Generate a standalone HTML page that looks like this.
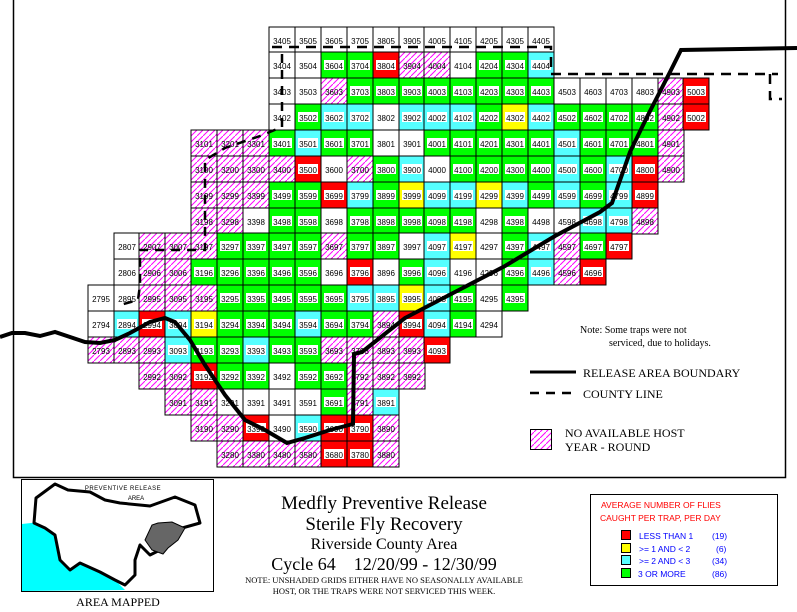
<!DOCTYPE html>
<html><head><meta charset="utf-8"><style>
body{margin:0;background:#fff}
svg{display:block}
.c rect{width:26px;height:26px;stroke:#000;stroke-width:1;fill:#fff}
.c rect.g{fill:#00ff00}.c rect.b{fill:#55ffff}.c rect.r{fill:#ff0000}.c rect.y{fill:#ffff00}.c rect.h{fill:url(#hp)}
.c rect.l{x:3px;y:8px;width:20px;height:10px;fill:#fff;stroke:none}
.c text{font-family:"Liberation Sans",sans-serif;font-size:8px;text-anchor:middle}
.sf{font-family:"Liberation Serif",serif}
.ss{font-family:"Liberation Sans",sans-serif}
</style></head><body>
<svg width="797" height="612" viewBox="0 0 797 612" xmlns="http://www.w3.org/2000/svg">
<defs><pattern id="hp" patternUnits="userSpaceOnUse" width="6" height="6"><rect width="6" height="6" fill="#fff"/><path d="M-1,7 L7,-1" stroke="#ff00ff" stroke-width="1"/></pattern></defs>
<rect x="13.5" y="-1" width="772" height="478.5" fill="none" stroke="#000" stroke-width="1.5"/>
<g class="c">
<!-- row0 -->
<g transform="translate(269,27)"><rect/><text x="13" y="17">3405</text></g>
<g transform="translate(295,27)"><rect/><text x="13" y="17">3505</text></g>
<g transform="translate(321,27)"><rect/><text x="13" y="17">3605</text></g>
<g transform="translate(347,27)"><rect/><text x="13" y="17">3705</text></g>
<g transform="translate(373,27)"><rect/><text x="13" y="17">3805</text></g>
<g transform="translate(399,27)"><rect/><text x="13" y="17">3905</text></g>
<g transform="translate(424,27)"><rect/><text x="13" y="17">4005</text></g>
<g transform="translate(450,27)"><rect/><text x="13" y="17">4105</text></g>
<g transform="translate(476,27)"><rect/><text x="13" y="17">4205</text></g>
<g transform="translate(502,27)"><rect/><text x="13" y="17">4305</text></g>
<g transform="translate(528,27)"><rect/><text x="13" y="17">4405</text></g>
<!-- row1 -->
<g transform="translate(269,52)"><rect/><text x="13" y="17">3404</text></g>
<g transform="translate(295,52)"><rect/><text x="13" y="17">3504</text></g>
<g transform="translate(321,52)"><rect class="g"/><rect class="l"/><text x="13" y="17">3604</text></g>
<g transform="translate(347,52)"><rect class="g"/><rect class="l"/><text x="13" y="17">3704</text></g>
<g transform="translate(373,52)"><rect class="r"/><rect class="l"/><text x="13" y="17">3804</text></g>
<g transform="translate(399,52)"><rect class="h"/><text x="13" y="17">3904</text></g>
<g transform="translate(424,52)"><rect class="h"/><text x="13" y="17">4004</text></g>
<g transform="translate(450,52)"><rect/><text x="13" y="17">4104</text></g>
<g transform="translate(476,52)"><rect class="g"/><rect class="l"/><text x="13" y="17">4204</text></g>
<g transform="translate(502,52)"><rect class="g"/><rect class="l"/><text x="13" y="17">4304</text></g>
<g transform="translate(528,52)"><rect class="b"/><rect class="l"/><text x="13" y="17">4404</text></g>
<!-- row2 -->
<g transform="translate(269,78)"><rect/><text x="13" y="17">3403</text></g>
<g transform="translate(295,78)"><rect/><text x="13" y="17">3503</text></g>
<g transform="translate(321,78)"><rect class="h"/><text x="13" y="17">3603</text></g>
<g transform="translate(347,78)"><rect class="g"/><rect class="l"/><text x="13" y="17">3703</text></g>
<g transform="translate(373,78)"><rect class="g"/><rect class="l"/><text x="13" y="17">3803</text></g>
<g transform="translate(399,78)"><rect class="g"/><rect class="l"/><text x="13" y="17">3903</text></g>
<g transform="translate(424,78)"><rect class="g"/><rect class="l"/><text x="13" y="17">4003</text></g>
<g transform="translate(450,78)"><rect class="g"/><rect class="l"/><text x="13" y="17">4103</text></g>
<g transform="translate(476,78)"><rect class="g"/><rect class="l"/><text x="13" y="17">4203</text></g>
<g transform="translate(502,78)"><rect class="g"/><rect class="l"/><text x="13" y="17">4303</text></g>
<g transform="translate(528,78)"><rect class="g"/><rect class="l"/><text x="13" y="17">4403</text></g>
<g transform="translate(554,78)"><rect/><text x="13" y="17">4503</text></g>
<g transform="translate(580,78)"><rect/><text x="13" y="17">4603</text></g>
<g transform="translate(606,78)"><rect/><text x="13" y="17">4703</text></g>
<g transform="translate(632,78)"><rect/><text x="13" y="17">4803</text></g>
<g transform="translate(658,78)"><rect class="h"/><text x="13" y="17">4903</text></g>
<g transform="translate(683,78)"><rect class="r"/><rect class="l"/><text x="13" y="17">5003</text></g>
<!-- row3 -->
<g transform="translate(269,104)"><rect/><text x="13" y="17">3402</text></g>
<g transform="translate(295,104)"><rect class="g"/><rect class="l"/><text x="13" y="17">3502</text></g>
<g transform="translate(321,104)"><rect class="b"/><rect class="l"/><text x="13" y="17">3602</text></g>
<g transform="translate(347,104)"><rect class="b"/><rect class="l"/><text x="13" y="17">3702</text></g>
<g transform="translate(373,104)"><rect/><text x="13" y="17">3802</text></g>
<g transform="translate(399,104)"><rect class="b"/><rect class="l"/><text x="13" y="17">3902</text></g>
<g transform="translate(424,104)"><rect class="b"/><rect class="l"/><text x="13" y="17">4002</text></g>
<g transform="translate(450,104)"><rect class="b"/><rect class="l"/><text x="13" y="17">4102</text></g>
<g transform="translate(476,104)"><rect class="g"/><rect class="l"/><text x="13" y="17">4202</text></g>
<g transform="translate(502,104)"><rect class="y"/><rect class="l"/><text x="13" y="17">4302</text></g>
<g transform="translate(528,104)"><rect class="b"/><rect class="l"/><text x="13" y="17">4402</text></g>
<g transform="translate(554,104)"><rect class="g"/><rect class="l"/><text x="13" y="17">4502</text></g>
<g transform="translate(580,104)"><rect class="g"/><rect class="l"/><text x="13" y="17">4602</text></g>
<g transform="translate(606,104)"><rect class="g"/><rect class="l"/><text x="13" y="17">4702</text></g>
<g transform="translate(632,104)"><rect class="g"/><rect class="l"/><text x="13" y="17">4802</text></g>
<g transform="translate(658,104)"><rect class="h"/><text x="13" y="17">4902</text></g>
<g transform="translate(683,104)"><rect class="r"/><rect class="l"/><text x="13" y="17">5002</text></g>
<!-- row4 -->
<g transform="translate(191,130)"><rect class="h"/><text x="13" y="17">3101</text></g>
<g transform="translate(217,130)"><rect class="h"/><text x="13" y="17">3201</text></g>
<g transform="translate(243,130)"><rect class="h"/><text x="13" y="17">3301</text></g>
<g transform="translate(269,130)"><rect class="g"/><rect class="l"/><text x="13" y="17">3401</text></g>
<g transform="translate(295,130)"><rect class="b"/><rect class="l"/><text x="13" y="17">3501</text></g>
<g transform="translate(321,130)"><rect class="g"/><rect class="l"/><text x="13" y="17">3601</text></g>
<g transform="translate(347,130)"><rect class="g"/><rect class="l"/><text x="13" y="17">3701</text></g>
<g transform="translate(373,130)"><rect/><text x="13" y="17">3801</text></g>
<g transform="translate(399,130)"><rect/><text x="13" y="17">3901</text></g>
<g transform="translate(424,130)"><rect class="g"/><rect class="l"/><text x="13" y="17">4001</text></g>
<g transform="translate(450,130)"><rect class="g"/><rect class="l"/><text x="13" y="17">4101</text></g>
<g transform="translate(476,130)"><rect class="g"/><rect class="l"/><text x="13" y="17">4201</text></g>
<g transform="translate(502,130)"><rect class="g"/><rect class="l"/><text x="13" y="17">4301</text></g>
<g transform="translate(528,130)"><rect class="g"/><rect class="l"/><text x="13" y="17">4401</text></g>
<g transform="translate(554,130)"><rect class="b"/><rect class="l"/><text x="13" y="17">4501</text></g>
<g transform="translate(580,130)"><rect class="g"/><rect class="l"/><text x="13" y="17">4601</text></g>
<g transform="translate(606,130)"><rect class="g"/><rect class="l"/><text x="13" y="17">4701</text></g>
<g transform="translate(632,130)"><rect class="g"/><rect class="l"/><text x="13" y="17">4801</text></g>
<g transform="translate(658,130)"><rect class="h"/><text x="13" y="17">4901</text></g>
<!-- row5 -->
<g transform="translate(191,156)"><rect class="h"/><text x="13" y="17">3100</text></g>
<g transform="translate(217,156)"><rect class="h"/><text x="13" y="17">3200</text></g>
<g transform="translate(243,156)"><rect class="h"/><text x="13" y="17">3300</text></g>
<g transform="translate(269,156)"><rect class="h"/><text x="13" y="17">3400</text></g>
<g transform="translate(295,156)"><rect class="r"/><rect class="l"/><text x="13" y="17">3500</text></g>
<g transform="translate(321,156)"><rect/><text x="13" y="17">3600</text></g>
<g transform="translate(347,156)"><rect class="h"/><text x="13" y="17">3700</text></g>
<g transform="translate(373,156)"><rect class="g"/><rect class="l"/><text x="13" y="17">3800</text></g>
<g transform="translate(399,156)"><rect class="b"/><rect class="l"/><text x="13" y="17">3900</text></g>
<g transform="translate(424,156)"><rect/><text x="13" y="17">4000</text></g>
<g transform="translate(450,156)"><rect class="g"/><rect class="l"/><text x="13" y="17">4100</text></g>
<g transform="translate(476,156)"><rect class="g"/><rect class="l"/><text x="13" y="17">4200</text></g>
<g transform="translate(502,156)"><rect class="g"/><rect class="l"/><text x="13" y="17">4300</text></g>
<g transform="translate(528,156)"><rect class="g"/><rect class="l"/><text x="13" y="17">4400</text></g>
<g transform="translate(554,156)"><rect class="b"/><rect class="l"/><text x="13" y="17">4500</text></g>
<g transform="translate(580,156)"><rect class="g"/><rect class="l"/><text x="13" y="17">4600</text></g>
<g transform="translate(606,156)"><rect class="b"/><rect class="l"/><text x="13" y="17">4700</text></g>
<g transform="translate(632,156)"><rect class="r"/><rect class="l"/><text x="13" y="17">4800</text></g>
<g transform="translate(658,156)"><rect class="h"/><text x="13" y="17">4900</text></g>
<!-- row6 -->
<g transform="translate(191,182)"><rect class="h"/><text x="13" y="17">3199</text></g>
<g transform="translate(217,182)"><rect class="h"/><text x="13" y="17">3299</text></g>
<g transform="translate(243,182)"><rect class="h"/><text x="13" y="17">3399</text></g>
<g transform="translate(269,182)"><rect class="g"/><rect class="l"/><text x="13" y="17">3499</text></g>
<g transform="translate(295,182)"><rect class="g"/><rect class="l"/><text x="13" y="17">3599</text></g>
<g transform="translate(321,182)"><rect class="r"/><rect class="l"/><text x="13" y="17">3699</text></g>
<g transform="translate(347,182)"><rect class="b"/><rect class="l"/><text x="13" y="17">3799</text></g>
<g transform="translate(373,182)"><rect class="g"/><rect class="l"/><text x="13" y="17">3899</text></g>
<g transform="translate(399,182)"><rect class="y"/><rect class="l"/><text x="13" y="17">3999</text></g>
<g transform="translate(424,182)"><rect class="b"/><rect class="l"/><text x="13" y="17">4099</text></g>
<g transform="translate(450,182)"><rect class="b"/><rect class="l"/><text x="13" y="17">4199</text></g>
<g transform="translate(476,182)"><rect class="y"/><rect class="l"/><text x="13" y="17">4299</text></g>
<g transform="translate(502,182)"><rect class="b"/><rect class="l"/><text x="13" y="17">4399</text></g>
<g transform="translate(528,182)"><rect class="g"/><rect class="l"/><text x="13" y="17">4499</text></g>
<g transform="translate(554,182)"><rect class="b"/><rect class="l"/><text x="13" y="17">4599</text></g>
<g transform="translate(580,182)"><rect class="g"/><rect class="l"/><text x="13" y="17">4699</text></g>
<g transform="translate(606,182)"><rect class="b"/><rect class="l"/><text x="13" y="17">4799</text></g>
<g transform="translate(632,182)"><rect class="r"/><rect class="l"/><text x="13" y="17">4899</text></g>
<!-- row7 -->
<g transform="translate(191,208)"><rect class="h"/><text x="13" y="17">3198</text></g>
<g transform="translate(217,208)"><rect class="h"/><text x="13" y="17">3298</text></g>
<g transform="translate(243,208)"><rect/><text x="13" y="17">3398</text></g>
<g transform="translate(269,208)"><rect class="g"/><rect class="l"/><text x="13" y="17">3498</text></g>
<g transform="translate(295,208)"><rect class="g"/><rect class="l"/><text x="13" y="17">3598</text></g>
<g transform="translate(321,208)"><rect/><text x="13" y="17">3698</text></g>
<g transform="translate(347,208)"><rect class="g"/><rect class="l"/><text x="13" y="17">3798</text></g>
<g transform="translate(373,208)"><rect class="g"/><rect class="l"/><text x="13" y="17">3898</text></g>
<g transform="translate(399,208)"><rect class="g"/><rect class="l"/><text x="13" y="17">3998</text></g>
<g transform="translate(424,208)"><rect class="g"/><rect class="l"/><text x="13" y="17">4098</text></g>
<g transform="translate(450,208)"><rect class="g"/><rect class="l"/><text x="13" y="17">4198</text></g>
<g transform="translate(476,208)"><rect/><text x="13" y="17">4298</text></g>
<g transform="translate(502,208)"><rect class="g"/><rect class="l"/><text x="13" y="17">4398</text></g>
<g transform="translate(528,208)"><rect/><text x="13" y="17">4498</text></g>
<g transform="translate(554,208)"><rect/><text x="13" y="17">4598</text></g>
<g transform="translate(580,208)"><rect class="b"/><rect class="l"/><text x="13" y="17">4698</text></g>
<g transform="translate(606,208)"><rect class="b"/><rect class="l"/><text x="13" y="17">4798</text></g>
<g transform="translate(632,208)"><rect class="h"/><text x="13" y="17">4898</text></g>
<!-- row8 -->
<g transform="translate(114,233)"><rect/><text x="13" y="17">2807</text></g>
<g transform="translate(139,233)"><rect class="h"/><text x="13" y="17">2907</text></g>
<g transform="translate(165,233)"><rect class="h"/><text x="13" y="17">3007</text></g>
<g transform="translate(191,233)"><rect class="h"/><text x="13" y="17">3197</text></g>
<g transform="translate(217,233)"><rect class="g"/><rect class="l"/><text x="13" y="17">3297</text></g>
<g transform="translate(243,233)"><rect class="g"/><rect class="l"/><text x="13" y="17">3397</text></g>
<g transform="translate(269,233)"><rect class="g"/><rect class="l"/><text x="13" y="17">3497</text></g>
<g transform="translate(295,233)"><rect class="g"/><rect class="l"/><text x="13" y="17">3597</text></g>
<g transform="translate(321,233)"><rect class="h"/><text x="13" y="17">3697</text></g>
<g transform="translate(347,233)"><rect class="g"/><rect class="l"/><text x="13" y="17">3797</text></g>
<g transform="translate(373,233)"><rect class="g"/><rect class="l"/><text x="13" y="17">3897</text></g>
<g transform="translate(399,233)"><rect/><text x="13" y="17">3997</text></g>
<g transform="translate(424,233)"><rect class="b"/><rect class="l"/><text x="13" y="17">4097</text></g>
<g transform="translate(450,233)"><rect class="y"/><rect class="l"/><text x="13" y="17">4197</text></g>
<g transform="translate(476,233)"><rect/><text x="13" y="17">4297</text></g>
<g transform="translate(502,233)"><rect class="g"/><rect class="l"/><text x="13" y="17">4397</text></g>
<g transform="translate(528,233)"><rect class="b"/><rect class="l"/><text x="13" y="17">4497</text></g>
<g transform="translate(554,233)"><rect class="h"/><text x="13" y="17">4597</text></g>
<g transform="translate(580,233)"><rect class="g"/><rect class="l"/><text x="13" y="17">4697</text></g>
<g transform="translate(606,233)"><rect class="r"/><rect class="l"/><text x="13" y="17">4797</text></g>
<!-- row9 -->
<g transform="translate(114,259)"><rect/><text x="13" y="17">2806</text></g>
<g transform="translate(139,259)"><rect class="h"/><text x="13" y="17">2906</text></g>
<g transform="translate(165,259)"><rect class="h"/><text x="13" y="17">3006</text></g>
<g transform="translate(191,259)"><rect class="g"/><rect class="l"/><text x="13" y="17">3196</text></g>
<g transform="translate(217,259)"><rect class="g"/><rect class="l"/><text x="13" y="17">3296</text></g>
<g transform="translate(243,259)"><rect class="g"/><rect class="l"/><text x="13" y="17">3396</text></g>
<g transform="translate(269,259)"><rect class="g"/><rect class="l"/><text x="13" y="17">3496</text></g>
<g transform="translate(295,259)"><rect class="g"/><rect class="l"/><text x="13" y="17">3596</text></g>
<g transform="translate(321,259)"><rect/><text x="13" y="17">3696</text></g>
<g transform="translate(347,259)"><rect class="r"/><rect class="l"/><text x="13" y="17">3796</text></g>
<g transform="translate(373,259)"><rect/><text x="13" y="17">3896</text></g>
<g transform="translate(399,259)"><rect class="g"/><rect class="l"/><text x="13" y="17">3996</text></g>
<g transform="translate(424,259)"><rect class="b"/><rect class="l"/><text x="13" y="17">4096</text></g>
<g transform="translate(450,259)"><rect/><text x="13" y="17">4196</text></g>
<g transform="translate(476,259)"><rect/><text x="13" y="17">4296</text></g>
<g transform="translate(502,259)"><rect class="g"/><rect class="l"/><text x="13" y="17">4396</text></g>
<g transform="translate(528,259)"><rect class="b"/><rect class="l"/><text x="13" y="17">4496</text></g>
<g transform="translate(554,259)"><rect class="h"/><text x="13" y="17">4596</text></g>
<g transform="translate(580,259)"><rect class="r"/><rect class="l"/><text x="13" y="17">4696</text></g>
<!-- row10 -->
<g transform="translate(88,285)"><rect/><text x="13" y="17">2795</text></g>
<g transform="translate(114,285)"><rect/><text x="13" y="17">2895</text></g>
<g transform="translate(139,285)"><rect class="h"/><text x="13" y="17">2995</text></g>
<g transform="translate(165,285)"><rect class="h"/><text x="13" y="17">3095</text></g>
<g transform="translate(191,285)"><rect class="h"/><text x="13" y="17">3195</text></g>
<g transform="translate(217,285)"><rect class="g"/><rect class="l"/><text x="13" y="17">3295</text></g>
<g transform="translate(243,285)"><rect class="g"/><rect class="l"/><text x="13" y="17">3395</text></g>
<g transform="translate(269,285)"><rect class="g"/><rect class="l"/><text x="13" y="17">3495</text></g>
<g transform="translate(295,285)"><rect class="g"/><rect class="l"/><text x="13" y="17">3595</text></g>
<g transform="translate(321,285)"><rect class="g"/><rect class="l"/><text x="13" y="17">3695</text></g>
<g transform="translate(347,285)"><rect class="b"/><rect class="l"/><text x="13" y="17">3795</text></g>
<g transform="translate(373,285)"><rect class="b"/><rect class="l"/><text x="13" y="17">3895</text></g>
<g transform="translate(399,285)"><rect class="y"/><rect class="l"/><text x="13" y="17">3995</text></g>
<g transform="translate(424,285)"><rect class="b"/><rect class="l"/><text x="13" y="17">4095</text></g>
<g transform="translate(450,285)"><rect class="g"/><rect class="l"/><text x="13" y="17">4195</text></g>
<g transform="translate(476,285)"><rect/><text x="13" y="17">4295</text></g>
<g transform="translate(502,285)"><rect class="g"/><rect class="l"/><text x="13" y="17">4395</text></g>
<!-- row11 -->
<g transform="translate(88,311)"><rect/><text x="13" y="17">2794</text></g>
<g transform="translate(114,311)"><rect class="b"/><rect class="l"/><text x="13" y="17">2894</text></g>
<g transform="translate(139,311)"><rect class="r"/><rect class="l"/><text x="13" y="17">2994</text></g>
<g transform="translate(165,311)"><rect class="b"/><rect class="l"/><text x="13" y="17">3094</text></g>
<g transform="translate(191,311)"><rect class="y"/><rect class="l"/><text x="13" y="17">3194</text></g>
<g transform="translate(217,311)"><rect class="g"/><rect class="l"/><text x="13" y="17">3294</text></g>
<g transform="translate(243,311)"><rect class="g"/><rect class="l"/><text x="13" y="17">3394</text></g>
<g transform="translate(269,311)"><rect class="g"/><rect class="l"/><text x="13" y="17">3494</text></g>
<g transform="translate(295,311)"><rect class="b"/><rect class="l"/><text x="13" y="17">3594</text></g>
<g transform="translate(321,311)"><rect class="g"/><rect class="l"/><text x="13" y="17">3694</text></g>
<g transform="translate(347,311)"><rect class="g"/><rect class="l"/><text x="13" y="17">3794</text></g>
<g transform="translate(373,311)"><rect class="h"/><text x="13" y="17">3894</text></g>
<g transform="translate(399,311)"><rect class="r"/><rect class="l"/><text x="13" y="17">3994</text></g>
<g transform="translate(424,311)"><rect class="b"/><rect class="l"/><text x="13" y="17">4094</text></g>
<g transform="translate(450,311)"><rect class="g"/><rect class="l"/><text x="13" y="17">4194</text></g>
<g transform="translate(476,311)"><rect/><text x="13" y="17">4294</text></g>
<!-- row12 -->
<g transform="translate(88,337)"><rect class="h"/><text x="13" y="17">2793</text></g>
<g transform="translate(114,337)"><rect class="h"/><text x="13" y="17">2893</text></g>
<g transform="translate(139,337)"><rect class="h"/><text x="13" y="17">2993</text></g>
<g transform="translate(165,337)"><rect class="b"/><rect class="l"/><text x="13" y="17">3093</text></g>
<g transform="translate(191,337)"><rect class="g"/><rect class="l"/><text x="13" y="17">3193</text></g>
<g transform="translate(217,337)"><rect class="g"/><rect class="l"/><text x="13" y="17">3293</text></g>
<g transform="translate(243,337)"><rect class="b"/><rect class="l"/><text x="13" y="17">3393</text></g>
<g transform="translate(269,337)"><rect class="g"/><rect class="l"/><text x="13" y="17">3493</text></g>
<g transform="translate(295,337)"><rect class="g"/><rect class="l"/><text x="13" y="17">3593</text></g>
<g transform="translate(321,337)"><rect class="h"/><text x="13" y="17">3693</text></g>
<g transform="translate(347,337)"><rect class="h"/><text x="13" y="17">3793</text></g>
<g transform="translate(373,337)"><rect class="h"/><text x="13" y="17">3893</text></g>
<g transform="translate(399,337)"><rect class="h"/><text x="13" y="17">3993</text></g>
<g transform="translate(424,337)"><rect class="r"/><rect class="l"/><text x="13" y="17">4093</text></g>
<!-- row13 -->
<g transform="translate(139,363)"><rect class="h"/><text x="13" y="17">2992</text></g>
<g transform="translate(165,363)"><rect class="h"/><text x="13" y="17">3092</text></g>
<g transform="translate(191,363)"><rect class="r"/><rect class="l"/><text x="13" y="17">3192</text></g>
<g transform="translate(217,363)"><rect class="g"/><rect class="l"/><text x="13" y="17">3292</text></g>
<g transform="translate(243,363)"><rect class="g"/><rect class="l"/><text x="13" y="17">3392</text></g>
<g transform="translate(269,363)"><rect/><text x="13" y="17">3492</text></g>
<g transform="translate(295,363)"><rect class="g"/><rect class="l"/><text x="13" y="17">3592</text></g>
<g transform="translate(321,363)"><rect class="g"/><rect class="l"/><text x="13" y="17">3692</text></g>
<g transform="translate(347,363)"><rect class="h"/><text x="13" y="17">3792</text></g>
<g transform="translate(373,363)"><rect class="h"/><text x="13" y="17">3892</text></g>
<g transform="translate(399,363)"><rect class="h"/><text x="13" y="17">3992</text></g>
<!-- row14 -->
<g transform="translate(165,389)"><rect class="h"/><text x="13" y="17">3091</text></g>
<g transform="translate(191,389)"><rect class="h"/><text x="13" y="17">3191</text></g>
<g transform="translate(217,389)"><rect/><text x="13" y="17">3291</text></g>
<g transform="translate(243,389)"><rect/><text x="13" y="17">3391</text></g>
<g transform="translate(269,389)"><rect/><text x="13" y="17">3491</text></g>
<g transform="translate(295,389)"><rect/><text x="13" y="17">3591</text></g>
<g transform="translate(321,389)"><rect class="g"/><rect class="l"/><text x="13" y="17">3691</text></g>
<g transform="translate(347,389)"><rect class="h"/><text x="13" y="17">3791</text></g>
<g transform="translate(373,389)"><rect class="b"/><rect class="l"/><text x="13" y="17">3891</text></g>
<!-- row15 -->
<g transform="translate(191,415)"><rect class="h"/><text x="13" y="17">3190</text></g>
<g transform="translate(217,415)"><rect class="h"/><text x="13" y="17">3290</text></g>
<g transform="translate(243,415)"><rect class="r"/><rect class="l"/><text x="13" y="17">3390</text></g>
<g transform="translate(269,415)"><rect/><text x="13" y="17">3490</text></g>
<g transform="translate(295,415)"><rect class="b"/><rect class="l"/><text x="13" y="17">3590</text></g>
<g transform="translate(321,415)"><rect class="r"/><rect class="l"/><text x="13" y="17">3690</text></g>
<g transform="translate(347,415)"><rect class="r"/><rect class="l"/><text x="13" y="17">3790</text></g>
<g transform="translate(373,415)"><rect class="h"/><text x="13" y="17">3890</text></g>
<!-- row16 -->
<g transform="translate(217,441)"><rect class="h"/><text x="13" y="17">3280</text></g>
<g transform="translate(243,441)"><rect class="h"/><text x="13" y="17">3380</text></g>
<g transform="translate(269,441)"><rect class="h"/><text x="13" y="17">3480</text></g>
<g transform="translate(295,441)"><rect class="h"/><text x="13" y="17">3580</text></g>
<g transform="translate(321,441)"><rect class="r"/><rect class="l"/><text x="13" y="17">3680</text></g>
<g transform="translate(347,441)"><rect class="r"/><rect class="l"/><text x="13" y="17">3780</text></g>
<g transform="translate(373,441)"><rect class="h"/><text x="13" y="17">3880</text></g>
</g>
<!-- county line -->
<polyline points="272,47 551,47 551,74 778,74" fill="none" stroke="#000" stroke-width="2.5" stroke-dasharray="10,7"/>
<polyline points="770,74 770,99 782,99" fill="none" stroke="#000" stroke-width="2.5" stroke-dasharray="10,7"/>
<polyline points="282,54 282,127 260,136 225,148 205,160 205,250 140,250 140,285 138,300 120,305" fill="none" stroke="#000" stroke-width="2.5" stroke-dasharray="9,7"/>
<!-- release boundary -->
<polyline points="0,337 12,333 25,333 40,336 55,332 70,337 85,342 100,343 115,340 130,333 150,322 165,318 175,322 190,340 205,365 225,395 245,420 265,430 287,443 305,438 330,430 353,424 354,354 362,352 405,318 455,292 505,266 555,236 600,212 612,203 630,152 647,117 670,72 681,50 797,48" fill="none" stroke="#000" stroke-width="4"/>
<!-- notes -->
<text class="sf" x="580" y="333" font-size="10">Note: Some traps were not</text>
<text class="sf" x="609" y="346" font-size="10">serviced, due to holidays.</text>
<line x1="530" y1="372" x2="576" y2="372" stroke="#000" stroke-width="3"/>
<text class="sf" x="583" y="377" font-size="12">RELEASE AREA BOUNDARY</text>
<line x1="530" y1="393" x2="576" y2="393" stroke="#000" stroke-width="2.5" stroke-dasharray="9,7"/>
<text class="sf" x="583" y="398" font-size="12">COUNTY LINE</text>
<rect x="530.5" y="429.5" width="21" height="20" fill="url(#hp)" stroke="#000"/>
<text class="sf" x="565" y="437" font-size="12">NO AVAILABLE HOST</text>
<text class="sf" x="565" y="451" font-size="12">YEAR - ROUND</text>
<!-- inset -->
<rect x="21.5" y="479.5" width="192" height="112" fill="#fff" stroke="#000"/>
<path d="M22,524 L40,522 L55,530 L60,545 L65,560 L70,570 L80,563 L100,572 L115,580 L125,590 L22,591 Z" fill="#00ffff"/>
<path d="M34,523 L36,498 L55,484 L68,490 L90,492 L105,500 L120,503 L150,506 L175,497 L195,505 L200,523 L175,530 L170,545 L150,555 L140,545 L135,560 L135,575 L125,585 L115,580 L100,572 L80,563 L70,570 L60,560 L55,535 L45,528 Z" fill="#fff" stroke="#000" stroke-width="3" stroke-linejoin="round"/>
<path d="M145,540 L152,525 L158,523 L172,522 L185,528 L178,540 L168,548 L163,554 L152,550 Z" fill="#666" stroke="#000"/>
<text class="ss" x="123" y="490" font-size="6" text-anchor="middle" letter-spacing="0.5">PREVENTIVE RELEASE</text>
<text class="ss" x="136" y="500" font-size="6" text-anchor="middle">AREA</text>
<text class="sf" x="118" y="606" font-size="12" text-anchor="middle">AREA MAPPED</text>
<!-- title -->
<g class="sf" text-anchor="middle">
<text x="384" y="509" font-size="19">Medfly Preventive Release</text>
<text x="384" y="530" font-size="19">Sterile Fly Recovery</text>
<text x="384" y="549" font-size="16">Riverside County Area</text>
<text x="384" y="570" font-size="18" xml:space="preserve">Cycle 64    12/20/99 - 12/30/99</text>
<text x="384" y="583" font-size="8.5">NOTE: UNSHADED GRIDS EITHER HAVE NO SEASONALLY AVAILABLE</text>
<text x="384" y="594" font-size="8.5">HOST, OR THE TRAPS WERE NOT SERVICED THIS WEEK.</text>
</g>
<!-- legend -->
<rect x="590.5" y="494.5" width="187" height="91" fill="#fff" stroke="#000"/>
<g class="ss" font-size="8.5">
<text x="601" y="508" fill="#ff0000">AVERAGE NUMBER OF FLIES</text>
<text x="600" y="521" fill="#ff0000">CAUGHT PER TRAP, PER DAY</text>
<rect x="621.5" y="530.5" width="9" height="9" fill="#ff0000" stroke="#000"/>
<rect x="621.5" y="543.5" width="9" height="9" fill="#ffff00" stroke="#000"/>
<rect x="621.5" y="555.5" width="9" height="9" fill="#55ffff" stroke="#000"/>
<rect x="621.5" y="568.5" width="9" height="9" fill="#00ff00" stroke="#000"/>
<text x="639" y="539" fill="#0000ff">LESS THAN 1</text><text x="712" y="539" fill="#0000ff">(19)</text>
<text x="639" y="552" fill="#0000ff">&gt;= 1 AND &lt; 2</text><text x="716" y="552" fill="#0000ff">(6)</text>
<text x="639" y="564" fill="#0000ff">&gt;= 2 AND &lt; 3</text><text x="712" y="564" fill="#0000ff">(34)</text>
<text x="638" y="577" fill="#0000ff">3 OR MORE</text><text x="712" y="577" fill="#0000ff">(86)</text>
</g>
</svg>
</body></html>
